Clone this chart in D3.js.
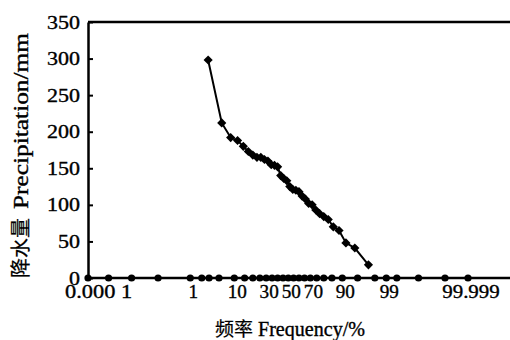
<!DOCTYPE html>
<html>
<head>
<meta charset="utf-8">
<script src="https://cdn.jsdelivr.net/npm/d3@7"></script>
<style>
  body { margin: 0; background: #fff; }
  text { font-family: "Liberation Serif", "Times New Roman", serif; fill: #000; stroke: #000; stroke-width: 0.35px; }
  .cjk { font-family: "Noto Sans CJK SC", sans-serif; stroke-width: 0.2px; }
</style>
</head>
<body>
<svg width="510" height="340"></svg>
<script>
// precipitation (mm) ranked high -> low, plotted at frequency m/(n+1)
var precip = [298, 212, 192, 188, 180, 173, 168, 165, 165, 162, 160, 155, 154, 152, 140, 136, 133,
              125, 121, 120, 118, 112, 108, 102, 100, 93, 88, 84, 80, 70, 65, 48, 41, 18];
// probability-paper grid points along the bottom (percent)
var axisProb = [0.0001, 0.001, 0.01, 0.1, 1, 2, 3, 5, 10, 15, 20, 25, 30, 35, 40, 45, 50, 55, 60,
                65, 70, 75, 80, 85, 90, 95, 98, 99, 99.5, 99.9, 99.99, 99.999];
var probLabels = [0.0001, 1, 10, 30, 50, 70, 90, 99, 99.999];
var probLabelText = ["0.000 1", "1", "10", "30", "50", "70", "90", "99", "99.999"];
var yTicks = [0, 50, 100, 150, 200, 250, 300, 350];

// inverse normal cdf (Acklam) -> turns percent into probability-paper position
function qnorm(p) {
  var a = [-39.69683028665376, 220.9460984245205, -275.9285104469687, 138.3577518672690, -30.66479806614716, 2.506628277459239];
  var b = [-54.47609879822406, 161.5858368580409, -155.6989798598866, 66.80131188771972, -13.28068155288572];
  var c = [-0.007784894002430293, -0.3223964580411365, -2.400758277161838, -2.549732539343734, 4.374664141464968, 2.938163982698783];
  var d = [0.007784695709041462, 0.3224671290700398, 2.445134137142996, 3.754408661907416];
  var pl = 0.02425, q, r;
  if (p < pl) {
    q = Math.sqrt(-2 * Math.log(p));
    return (((((c[0]*q+c[1])*q+c[2])*q+c[3])*q+c[4])*q+c[5]) / ((((d[0]*q+d[1])*q+d[2])*q+d[3])*q+1);
  }
  if (p > 1 - pl) {
    q = Math.sqrt(-2 * Math.log(1 - p));
    return -(((((c[0]*q+c[1])*q+c[2])*q+c[3])*q+c[4])*q+c[5]) / ((((d[0]*q+d[1])*q+d[2])*q+d[3])*q+1);
  }
  q = p - 0.5; r = q * q;
  return (((((a[0]*r+a[1])*r+a[2])*r+a[3])*r+a[4])*r+a[5])*q / (((((b[0]*r+b[1])*r+b[2])*r+b[3])*r+b[4])*r+1);
}

var svg = d3.select("svg");
var plotL = 88, plotT = 22, plotB = 278, plotR = 510;

var z = d3.scaleLinear()
          .domain([qnorm(0.0001 / 100), qnorm(99.999 / 100)])
          .range([plotL, 468]);
var x = p => z(qnorm(p / 100));
var y = d3.scaleLinear().domain([0, 350]).range([plotB, plotT]);

var n = precip.length;
var points = precip.map((v, i) => ({ p: (i + 1) / (n + 1) * 100, v: v }));

// frame: top line + y axis
svg.append("line")
    .attr("x1", plotL).attr("x2", plotR).attr("y1", plotT).attr("y2", plotT)
    .attr("stroke", "#000").attr("stroke-width", 2.5);

var yAxis = svg.append("g")
    .attr("transform", "translate(" + plotL + ",0)")
    .call(d3.axisLeft(y).tickValues(yTicks).tickSizeInner(-5).tickSizeOuter(0).tickPadding(8));
yAxis.select(".domain").attr("stroke", "#000").attr("stroke-width", 2.5);
yAxis.selectAll(".tick line").attr("stroke", "#000").attr("stroke-width", 2);
yAxis.selectAll(".tick text")
    .attr("font-family", "Liberation Serif").attr("font-size", 19)
    .attr("textLength", d => String(d).length * 11).attr("lengthAdjust", "spacingAndGlyphs");

// bottom line with the probability dots
svg.append("line")
    .attr("x1", plotL).attr("x2", plotR).attr("y1", plotB).attr("y2", plotB)
    .attr("stroke", "#000").attr("stroke-width", 2.5);

svg.selectAll(".pdot")
  .data(axisProb)
  .enter()
    .append("circle")
    .attr("cx", d => x(d))
    .attr("cy", y(0))
    .attr("r", 3.6)
    .attr("fill", "#000");

svg.selectAll(".plabel")
  .data(probLabels)
  .enter()
    .append("text")
    .attr("x", (d, i) => i === 0 ? x(d) - 23 : x(d) + 3)
    .attr("y", 298)
    .attr("text-anchor", (d, i) => i === 0 ? "start" : "middle")
    .attr("font-size", 19)
    .attr("textLength", (d, i) => probLabelText[i].length * 9.6)
    .attr("lengthAdjust", "spacingAndGlyphs")
    .text((d, i) => probLabelText[i]);

// data curve
svg.append("path")
    .datum(points)
    .attr("fill", "none")
    .attr("stroke", "#000")
    .attr("stroke-width", 2)
    .attr("d", d3.line().x(d => x(d.p)).y(d => y(d.v)));

svg.selectAll(".pt")
  .data(points)
  .enter()
    .append("path")
    .attr("d", d3.symbol(d3.symbolSquare, 42))
    .attr("transform", d => "translate(" + x(d.p) + "," + y(d.v) + ") rotate(45)")
    .attr("fill", "#000");

// axis titles
svg.append("text")
    .attr("class", "cjk")
    .attr("transform", "translate(28,278) rotate(-90)")
    .attr("font-size", 20)
    .text("降水量");
svg.append("text")
    .attr("transform", "translate(28,209) rotate(-90)")
    .attr("font-size", 21)
    .attr("textLength", 176).attr("lengthAdjust", "spacingAndGlyphs")
    .text("Precipitation/mm");

svg.append("text")
    .attr("class", "cjk")
    .attr("x", 215).attr("y", 336)
    .attr("font-size", 19)
    .text("频率");
svg.append("text")
    .attr("x", 258).attr("y", 336)
    .attr("font-size", 20)
    .attr("textLength", 107).attr("lengthAdjust", "spacingAndGlyphs")
    .text("Frequency/%");
</script>
</body>
</html>
